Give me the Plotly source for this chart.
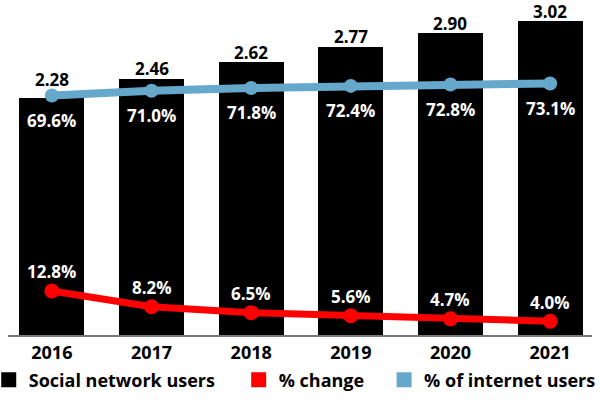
import plotly.graph_objects as go

years = ["2016", "2017", "2018", "2019", "2020", "2021"]
social_users = [2.28, 2.46, 2.62, 2.77, 2.90, 3.02]
pct_change = [12.8, 8.2, 6.5, 5.6, 4.7, 4.0]
pct_internet = [69.6, 71.0, 71.8, 72.4, 72.8, 73.1]

BLACK = "#000000"
RED = "#fe0000"
BLUE = "#66a8cb"
FONT = "Open Sans"

fig = go.Figure()

fig.add_trace(go.Bar(
    x=years, y=social_users, width=0.65, marker=dict(color=BLACK, line=dict(width=0)),
    name="Social network users", showlegend=False, yaxis="y"))

fig.add_trace(go.Scatter(
    x=years, y=pct_internet, mode="lines+markers", yaxis="y2",
    line=dict(color=BLUE, width=8), marker=dict(color=BLUE, size=14),
    name="% of internet users", showlegend=False))

fig.add_trace(go.Scatter(
    x=years, y=pct_change, mode="lines+markers", yaxis="y2",
    line=dict(color=RED, width=7), marker=dict(color=RED, size=15),
    name="% change", showlegend=False))

# legend entries (squares), each in its own legend box
legend_items = [("Social network users", BLACK, "legend", -0.033),
                ("% change", RED, "legend2", 0.395),
                ("% of internet users", BLUE, "legend3", 0.644)]
legend_font = dict(family=FONT, size=18, color=BLACK, weight="bold")
legend_layouts = {}
for name, col, lg, lx in legend_items:
    fig.add_trace(go.Scatter(x=[None], y=[None], mode="markers", name=name, legend=lg,
                             marker=dict(symbol="square", size=15, color=col), yaxis="y"))
    legend_layouts[lg] = dict(orientation="h", x=lx, xanchor="left", y=-0.136, yanchor="middle",
                              font=legend_font, bgcolor="rgba(0,0,0,0)")

bar_label_shift = [18, 10, 10, 10, 10, 9]
ann = []
for i, v in enumerate(social_users):
    ann.append(dict(x=i, y=v, xref="x", yref="y", text=f"{v:.2f}", showarrow=False,
                    yanchor="middle", yshift=bar_label_shift[i],
                    font=dict(family=FONT, size=17, color=BLACK, weight="bold")))
for i, v in enumerate(pct_internet):
    ann.append(dict(x=i, y=v, xref="x", yref="y2", text=f"{v:.1f}%", showarrow=False,
                    yanchor="middle", yshift=-25,
                    font=dict(family=FONT, size=17, color="white", weight="bold")))
for i, v in enumerate(pct_change):
    ann.append(dict(x=i, y=v, xref="x", yref="y2", text=f"{v:.1f}%", showarrow=False,
                    yanchor="middle", yshift=19,
                    font=dict(family=FONT, size=17, color="white", weight="bold")))

fig.update_layout(
    width=600, height=400,
    margin=dict(l=8, r=8, t=4, b=65, autoexpand=False),
    plot_bgcolor="white", paper_bgcolor="white",
    bargap=0,
    xaxis=dict(type="category", range=[-0.44, 5.42], showline=True, linecolor="#777777",
               linewidth=2, ticks="", showgrid=False, zeroline=False,
               tickfont=dict(family=FONT, size=18, color=BLACK, weight="bold"),
               ticklabelstandoff=0),
    yaxis=dict(range=[0, 3.18], visible=False, showgrid=False),
    yaxis2=dict(range=[0, 96.2], visible=False, overlaying="y", showgrid=False),
    annotations=ann,
    showlegend=True,
    **legend_layouts,
)

fig.write_html("out.html")
